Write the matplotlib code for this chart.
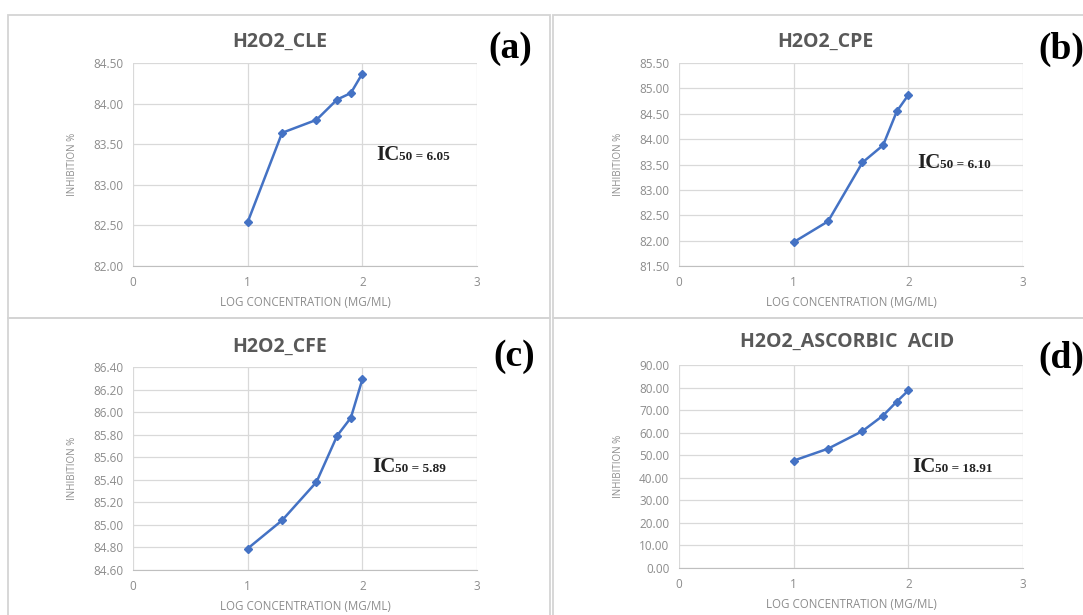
import matplotlib
matplotlib.use("Agg")
import matplotlib.pyplot as plt
from matplotlib.patches import Rectangle
import numpy as np

# --- data ---
log_conc = [1.00, 1.30, 1.60, 1.78, 1.90, 2.00]

cle = [82.54, 83.64, 83.80, 84.05, 84.13, 84.37]
cpe = [81.97, 82.38, 83.54, 83.88, 84.55, 84.87]
cfe = [84.79, 85.04, 85.38, 85.79, 85.95, 86.29]
ascorbic = [47.6, 52.9, 60.7, 67.6, 73.8, 78.7]

titles = ["H2O2_CLE", "H2O2_CPE", "H2O2_CFE", "H2O2_ASCORBIC  ACID"]
panel_tags = ["(a)", "(b)", "(c)", "(d)"]
ic50_text = ["50 = 6.05", "50 = 6.10", "50 = 5.89", "50 = 18.91"]
y_ticks = [np.arange(82.0, 84.51, 0.5),
           np.arange(81.5, 85.51, 0.5),
           np.arange(84.6, 86.41, 0.2),
           np.arange(0, 90.1, 10)]
series = [cle, cpe, cfe, ascorbic]

W, H = 1083, 615
fig = plt.figure(figsize=(W / 100, H / 100), dpi=100)

def fx(px):
    return px / W

def fy(py):
    return 1 - py / H

# panel frames (pixel boxes: left, top, right, bottom)
frames = [(8, 15, 550, 318), (553, 15, 1095, 318),
          (8, 318, 550, 625), (553, 318, 1095, 625)]
for l, t, r, b in frames:
    fig.add_artist(Rectangle((fx(l), fy(b)), fx(r - l), (b - t) / H,
                             transform=fig.transFigure, fill=False,
                             edgecolor="#d4d4d4", lw=1.3))

# plot areas (pixel: left, top, right, bottom)
areas = [(133, 63, 477, 266), (679, 63, 1023, 266),
         (133, 367, 477, 570), (679, 365, 1023, 568)]
title_pos = [(280, 42), (825, 42), (280, 347), (847, 342)]
tag_pos = [(488, 49), (1038, 49), (493, 357), (1038, 358)]
ic_pos = [(376, 155), (917, 163), (372, 467), (912, 467)]

line_col = "#4472C4"
tick_col = "#8c8c8c"
grid_col = "#d9d9d9"

for i in range(4):
    l, t, r, b = areas[i]
    ax = fig.add_axes([fx(l), fy(b), fx(r - l), (b - t) / H])
    ax.plot(log_conc, series[i], "-D", color=line_col, lw=1.8, ms=4.5,
            mec=line_col, zorder=3)
    ax.set_xlim(0, 3)
    ax.set_xticks([0, 1, 2, 3])
    yt = y_ticks[i]
    ax.set_ylim(yt[0], yt[-1])
    ax.set_yticks(yt)
    ax.set_yticklabels([f"{v:.2f}" for v in yt])
    ax.grid(True, color=grid_col, lw=0.9)
    ax.set_axisbelow(True)
    for s in ["top", "right", "left"]:
        ax.spines[s].set_visible(False)
    ax.spines["bottom"].set_color("#bfbfbf")
    ax.tick_params(length=0, pad=7, labelsize=8.5, labelcolor=tick_col)
    for lab in ax.get_xticklabels() + ax.get_yticklabels():
        lab.set_family("Open Sans")
    ax.set_xlabel("LOG CONCENTRATION (MG/ML)", fontsize=8.3, color=tick_col,
                  family="Open Sans")
    ax.set_ylabel("INHIBITION %", fontsize=7, color=tick_col,
                  family="Open Sans")
    ax.xaxis.set_label_coords(0.5, -0.15)
    ax.yaxis.set_label_coords(-0.16, 0.5)

    tx, ty = title_pos[i]
    fig.text(fx(tx), fy(ty), titles[i], ha="center", va="center",
             fontsize=14, fontweight="bold", color="#595959",
             family="Open Sans")

    gx, gy = tag_pos[i]
    fig.text(fx(gx), fy(gy), panel_tags[i], ha="left", va="center",
             fontsize=27, fontweight="bold", color="black",
             family="Liberation Serif")

    cx, cy = ic_pos[i]
    t1 = fig.text(fx(cx), fy(cy), "IC", ha="left", va="center",
                  fontsize=15, fontweight="bold", color="#222222",
                  family="Liberation Serif")
    fig.add_artist(plt.Annotation(ic50_text[i], xy=(1.0, 0.12), xycoords=t1,
                                  ha="left", va="bottom", fontsize=9.5,
                                  fontweight="bold", color="#222222",
                                  family="Liberation Serif"))

plt.savefig("out.png", dpi=100, facecolor="white")
